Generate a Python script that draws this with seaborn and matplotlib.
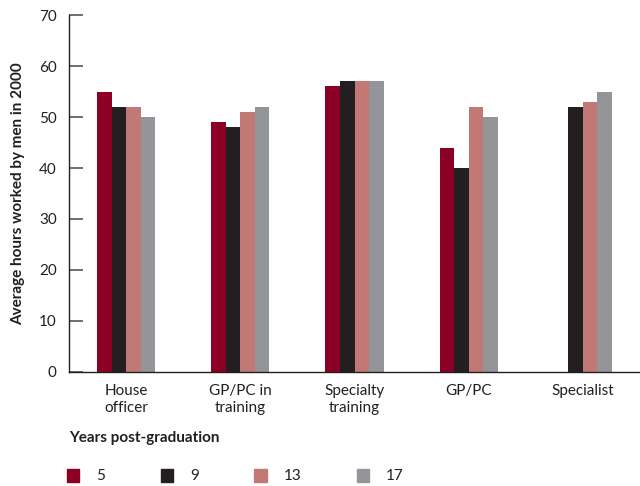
import numpy as np
import pandas as pd
import matplotlib
matplotlib.use("Agg")
import matplotlib.pyplot as plt
import seaborn as sns

categories = ["House\nofficer", "GP/PC in\ntraining", "Specialty\ntraining", "GP/PC", "Specialist"]
years = ["5", "9", "13", "17"]
hours_5 = [55, 49, 56, 44, np.nan]
hours_9 = [52, 48, 57, 40, 52]
hours_13 = [52, 51, 57, 52, 53]
hours_17 = [50, 52, 57, 50, 55]
colors = ["#8C0026", "#231F20", "#C27874", "#939598"]

rows = []
for yr, vals in zip(years, [hours_5, hours_9, hours_13, hours_17]):
    for cat, v in zip(categories, vals):
        rows.append({"category": cat, "years": yr, "hours": v})
df = pd.DataFrame(rows)

sns.set_style("white")
plt.rcParams["font.family"] = ["Lato", "DejaVu Sans"]
text_color = "#231F20"

fig = plt.figure(figsize=(6.4, 4.86), dpi=100)
ax = fig.add_axes([0.108, 0.2346, 0.892, 0.7345])

sns.barplot(data=df, x="category", y="hours", hue="years", hue_order=years,
            order=categories, palette=colors, width=0.51, saturation=1,
            errorbar=None, ax=ax, legend=False, linewidth=0)

ax.set_ylim(0, 70)
ax.set_xlim(-0.5, 4.5)
ax.set_yticks(range(0, 71, 10))
ax.set_xlabel("")
ax.set_ylabel("Average hours worked by men in 2000", fontsize=11,
              fontweight="bold", color=text_color, labelpad=10)
for side in ["top", "right"]:
    ax.spines[side].set_visible(False)
for side in ["left", "bottom"]:
    ax.spines[side].set_color(text_color)
    ax.spines[side].set_linewidth(1.0)
ax.tick_params(axis="y", direction="in", length=10, width=1.2, color="#555555",
               labelsize=11, labelcolor=text_color, pad=9, left=True)
ax.tick_params(axis="x", length=0, labelsize=11, labelcolor=text_color, pad=9)
for lbl in ax.get_xticklabels():
    lbl.set_linespacing(1.2)

fig.text(0.108, 1 - 438 / 486, "Years post-graduation", fontsize=11,
         fontweight="bold", color=text_color, va="center", ha="left")

handles = [plt.Rectangle((0, 0), 1, 1, color=c) for c in colors]
leg = fig.legend(handles, years, ncol=4, loc="center left",
                 bbox_to_anchor=(0.093, 1 - 476 / 486), frameon=False,
                 fontsize=11, handlelength=0.8, handleheight=0.95,
                 handletextpad=1.1, columnspacing=3.65, borderpad=0)
for t in leg.get_texts():
    t.set_color(text_color)

fig.savefig("out.png", dpi=100)
